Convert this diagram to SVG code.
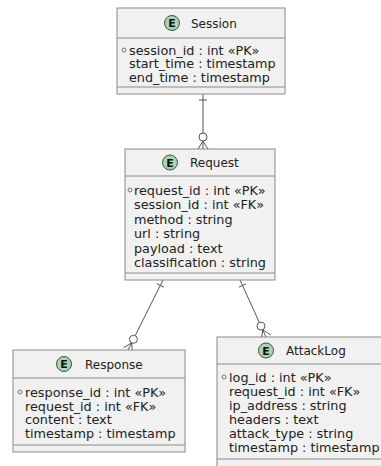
<svg xmlns="http://www.w3.org/2000/svg" width="381" height="466" viewBox="0 0 381 466">
<style>
.box{fill:#F1F1F1;stroke:#8a8a8a;stroke-width:1}
.sep{stroke:#8a8a8a;stroke-width:1}
.spot{fill:#ADD1B2;stroke:#2f5a38;stroke-width:1}
.spotE{font-family:"DejaVu Sans",sans-serif;font-size:11px;font-weight:bold;fill:#111;text-anchor:middle}
.title{font-family:"DejaVu Sans",sans-serif;font-size:12px;fill:#222}
.attr{font-family:"DejaVu Sans",sans-serif;font-size:12.8px;fill:#222}
.key{fill:none;stroke:#777;stroke-width:1}
.conn line,.conn polyline{stroke:#555;stroke-width:1;fill:none}
.conn circle{fill:#fff;stroke:#555;stroke-width:1}
</style>
<rect width="381" height="466" fill="#ffffff"/>
<g class="conn" id="connectors">
  <g id="session-request">
    <line x1="203" y1="94" x2="203" y2="149"/>
    <line x1="199" y1="100" x2="207" y2="100"/>
    <circle cx="203" cy="137" r="4"/>
    <polyline points="198,149 203,141 208,149"/>
  </g>
  <g id="request-response">
    <line x1="163" y1="280" x2="128" y2="350"/>
    <line x1="163.9" y1="287.2" x2="156.7" y2="283.6"/>
    <circle cx="133.4" cy="339.3" r="4"/>
    <polyline points="132.5,352.2 131.6,342.8 123.5,347.8"/>
  </g>
  <g id="request-attacklog">
    <line x1="240" y1="280" x2="266" y2="337"/>
    <line x1="246.1" y1="283.8" x2="238.9" y2="287.2"/>
    <circle cx="261" cy="326.1" r="4"/>
    <polyline points="270.6,334.9 262.7,329.7 261.4,339.1"/>
  </g>
</g>
<g id="Session">
  <rect class="box" x="117" y="8" width="168" height="86"/>
  <line class="sep" x1="117" y1="38" x2="285" y2="38"/>
  <line class="sep" x1="117" y1="87" x2="285" y2="87"/>
  <circle class="spot" cx="172" cy="23" r="7.5"/>
  <text class="spotE" x="172" y="27">E</text>
  <text class="title" x="191" y="27.5">Session</text>
  <circle class="key" cx="124" cy="50" r="2"/>
  <text class="attr" x="129" y="54.5">session_id : int «PK»</text>
  <text class="attr" x="129" y="68">start_time : timestamp</text>
  <text class="attr" x="129" y="81.5">end_time : timestamp</text>
</g>
<g id="Request">
  <rect class="box" x="125" y="149" width="150" height="131"/>
  <line class="sep" x1="125" y1="176" x2="275" y2="176"/>
  <line class="sep" x1="125" y1="273" x2="275" y2="273"/>
  <circle class="spot" cx="170" cy="162.5" r="7.5"/>
  <text class="spotE" x="170" y="166.5">E</text>
  <text class="title" x="190" y="167">Request</text>
  <circle class="key" cx="130" cy="190" r="2"/>
  <text class="attr" x="134" y="194.5">request_id : int «PK»</text>
  <text class="attr" x="134" y="209">session_id : int «FK»</text>
  <text class="attr" x="134" y="223.6">method : string</text>
  <text class="attr" x="134" y="238.2">url : string</text>
  <text class="attr" x="134" y="252.8">payload : text</text>
  <text class="attr" x="134" y="267.4">classification : string</text>
</g>
<g id="Response">
  <rect class="box" x="13" y="350" width="172" height="102"/>
  <line class="sep" x1="13" y1="378" x2="185" y2="378"/>
  <line class="sep" x1="13" y1="445" x2="185" y2="445"/>
  <circle class="spot" cx="64" cy="364" r="7.5"/>
  <text class="spotE" x="64" y="368">E</text>
  <text class="title" x="85" y="368.5">Response</text>
  <circle class="key" cx="20" cy="392" r="2"/>
  <text class="attr" x="25" y="396.5">response_id : int «PK»</text>
  <text class="attr" x="25" y="410.5">request_id : int «FK»</text>
  <text class="attr" x="25" y="424">content : text</text>
  <text class="attr" x="25" y="437.5">timestamp : timestamp</text>
</g>
<g id="AttackLog">
  <rect class="box" x="217" y="337" width="180" height="133"/>
  <line class="sep" x1="217" y1="364" x2="397" y2="364"/>
  <line class="sep" x1="217" y1="459" x2="397" y2="459"/>
  <circle class="spot" cx="266" cy="350.5" r="7.5"/>
  <text class="spotE" x="266" y="354.5">E</text>
  <text class="title" x="286" y="355">AttackLog</text>
  <circle class="key" cx="224" cy="377" r="2"/>
  <text class="attr" x="229" y="381.5">log_id : int «PK»</text>
  <text class="attr" x="229" y="395.5">request_id : int «FK»</text>
  <text class="attr" x="229" y="409.5">ip_address : string</text>
  <text class="attr" x="229" y="423.5">headers : text</text>
  <text class="attr" x="229" y="437.5">attack_type : string</text>
  <text class="attr" x="229" y="451.5">timestamp : timestamp</text>
</g>
</svg>
